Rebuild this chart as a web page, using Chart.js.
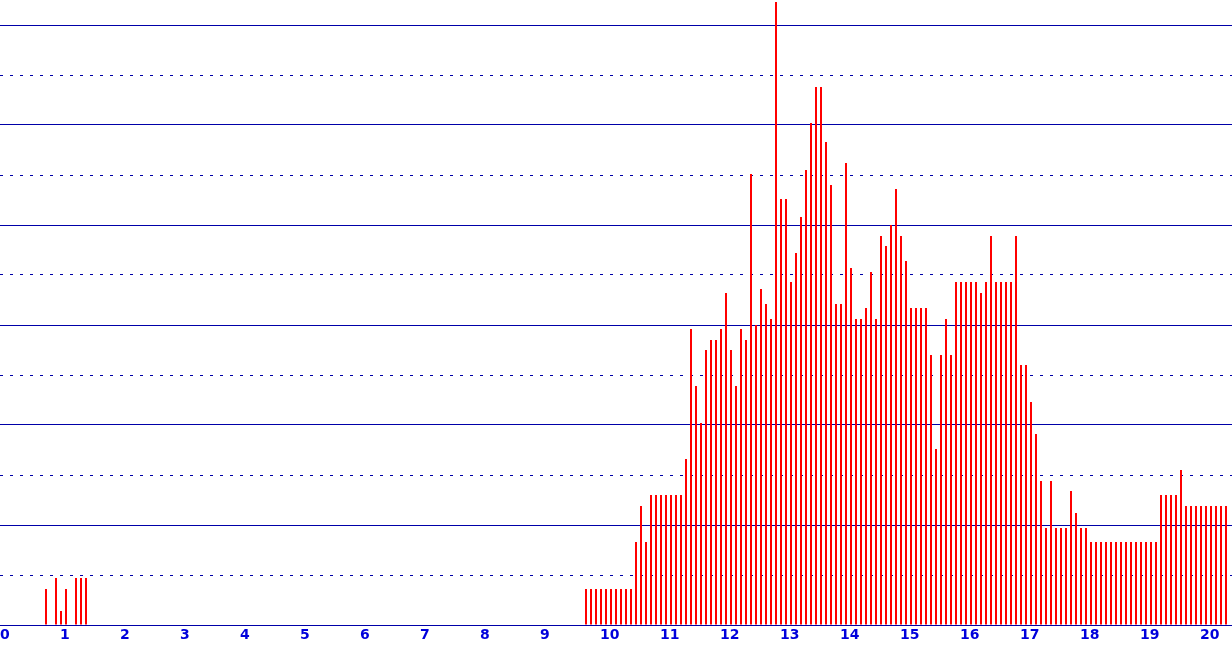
<!DOCTYPE html>
<html>
<head>
<meta charset="utf-8">
<script src="https://cdn.jsdelivr.net/npm/chart.js@4"></script>
<style>
  html, body { margin: 0; padding: 0; background: #fff; }
  canvas { display: block; }
</style>
</head>
<body>
<canvas id="chart" width="1232" height="645"></canvas>
<script>
// 5-minute bins, bin index i starts at i*5 minutes after 0:00
const binMinutes = 5;

// small early cluster, starts at bin 9 (0:45)
const earlyStart = 9;
const earlyValues = [7.2, 0, 9.4, 2.8, 7.2, 0, 9.4, 9.4, 9.4];

// main day block, starts at bin 117 (9:45)
const dayStart = 117;
const dayValues = [
  7.2, 7.2, 7.2, 7.2, 7.2, 7.2, 7.2, 7.2, 7.2, 7.2,
  16.6, 23.8, 16.6, 26, 26, 26, 26, 26, 26, 26,
  33.2, 59.2, 47.8, 40.4, 55, 57, 57, 59.2, 66.4, 55,
  47.8, 59.2, 57, 90.2, 60, 67.2, 64.2, 61.2, 124.6, 85.2,
  85.2, 68.6, 74.4, 81.6, 91, 100.4, 107.6, 107.6, 96.6, 88,
  64.2, 64.2, 92.4, 71.4, 61.2, 61.2, 63.4, 70.6, 61.2, 77.8,
  75.8, 80, 87.2, 77.8, 72.8, 63.4, 63.4, 63.4, 63.4, 54,
  35.2, 54, 61.2, 54, 68.6, 68.6, 68.6, 68.6, 68.6, 66.4,
  68.6, 77.8, 68.6, 68.6, 68.6, 68.6, 77.8, 52, 52, 44.6,
  38.2, 28.8, 19.4, 28.8, 19.4, 19.4, 19.4, 26.8, 22.4, 19.4,
  19.4, 16.6, 16.6, 16.6, 16.6, 16.6, 16.6, 16.6, 16.6, 16.6,
  16.6, 16.6, 16.6, 16.6, 16.6, 26, 26, 26, 26, 31,
  23.8, 23.8, 23.8, 23.8, 23.8, 23.8, 23.8, 23.8, 23.8
];

const hourTicks = [0, 1, 2, 3, 4, 5, 6, 7, 8, 9, 10, 11, 12, 13, 14, 15, 16, 17, 18, 19, 20];

const lineBlue = '#0000a8';
const textBlue = '#0000dc';

function toPoints(start, values) {
  return values.map((v, i) => ({ x: (start + i) * binMinutes / 60, y: v }));
}

const points = toPoints(earlyStart, earlyValues).concat(toPoints(dayStart, dayValues));

new Chart(document.getElementById('chart').getContext('2d'), {
  type: 'bar',
  data: {
    datasets: [{
      data: points,
      backgroundColor: '#ff0000',
      borderWidth: 0,
      barThickness: 2,
      inflateAmount: 0
    }]
  },
  options: {
    responsive: false,
    animation: false,
    events: [],
    layout: { padding: 0 },
    plugins: {
      legend: { display: false },
      tooltip: { enabled: false }
    },
    scales: {
      x: {
        type: 'linear',
        offset: false,
        min: -1 / 60,
        max: 1231 / 60,
        afterBuildTicks: axis => { axis.ticks = hourTicks.map(v => ({ value: v })); },
        afterFit: axis => { axis.height = 20; axis.paddingLeft = 0; axis.paddingRight = 0; },
        grid: { display: false, drawTicks: false },
        border: { display: false },
        ticks: {
          align: 'start',
          autoSkip: false,
          maxRotation: 0,
          padding: 2,
          labelOffset: -1,
          color: textBlue,
          font: { family: 'DejaVu Sans', size: 14, weight: 'bold' }
        }
      },
      y: {
        min: 0,
        max: 125,
        afterFit: axis => { axis.width = 0; },
        ticks: { display: false, stepSize: 10, includeBounds: false },
        grid: { color: lineBlue, lineWidth: 1, drawTicks: false },
        border: {
          display: false,
          dash: ctx => (ctx.tick && ctx.tick.value % 20 !== 0 ? [3, 7] : [])
        }
      }
    }
  }
});
</script>
</body>
</html>
